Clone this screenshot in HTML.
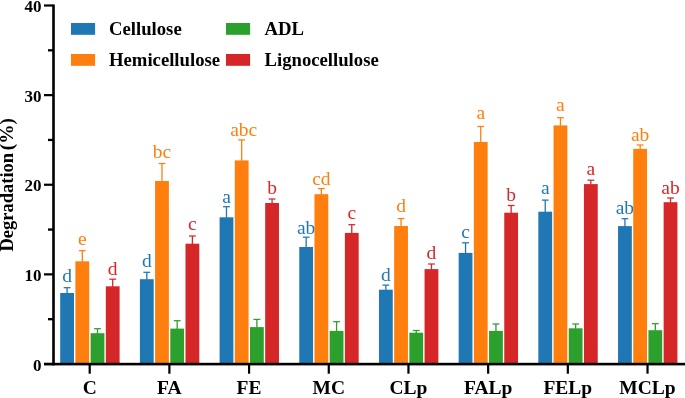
<!DOCTYPE html><html><head><meta charset="utf-8"><style>html,body{margin:0;padding:0;background:#fff;}svg{display:block;will-change:transform;}text{font-family:"Liberation Serif",serif;}</style></head><body>
<svg width="685" height="398" viewBox="0 0 685 398">
<rect width="685" height="398" fill="#fff"/>
<rect x="60.20" y="293.00" width="13.8" height="70.80" fill="#1f77b4"/>
<rect x="66.45" y="287.70" width="1.3" height="5.80" fill="#1f77b4"/>
<rect x="63.70" y="287.07" width="6.8" height="1.25" fill="#1f77b4"/>
<text x="67.10" y="281.90" font-size="19.5" fill="#1f77b4" text-anchor="middle">d</text>
<rect x="75.40" y="261.30" width="13.8" height="102.50" fill="#ff7f0e"/>
<rect x="81.65" y="250.70" width="1.3" height="11.10" fill="#ff7f0e"/>
<rect x="78.90" y="250.07" width="6.8" height="1.25" fill="#ff7f0e"/>
<text x="82.30" y="245.00" font-size="19.5" fill="#ff7f0e" text-anchor="middle">e</text>
<rect x="90.60" y="333.20" width="13.8" height="30.60" fill="#2ca02c"/>
<rect x="96.85" y="328.70" width="1.3" height="5.00" fill="#2ca02c"/>
<rect x="94.10" y="328.07" width="6.8" height="1.25" fill="#2ca02c"/>
<rect x="105.80" y="286.30" width="13.8" height="77.50" fill="#d62728"/>
<rect x="112.05" y="279.20" width="1.3" height="7.60" fill="#d62728"/>
<rect x="109.30" y="278.57" width="6.8" height="1.25" fill="#d62728"/>
<text x="112.70" y="274.80" font-size="19.5" fill="#d62728" text-anchor="middle">d</text>
<rect x="139.89" y="279.20" width="13.8" height="84.60" fill="#1f77b4"/>
<rect x="146.14" y="272.30" width="1.3" height="7.40" fill="#1f77b4"/>
<rect x="143.39" y="271.68" width="6.8" height="1.25" fill="#1f77b4"/>
<text x="146.79" y="266.60" font-size="19.5" fill="#1f77b4" text-anchor="middle">d</text>
<rect x="155.09" y="181.00" width="13.8" height="182.80" fill="#ff7f0e"/>
<rect x="161.34" y="163.50" width="1.3" height="18.00" fill="#ff7f0e"/>
<rect x="158.59" y="162.88" width="6.8" height="1.25" fill="#ff7f0e"/>
<text x="161.99" y="158.30" font-size="19.5" fill="#ff7f0e" text-anchor="middle">bc</text>
<rect x="170.29" y="328.60" width="13.8" height="35.20" fill="#2ca02c"/>
<rect x="176.54" y="320.70" width="1.3" height="8.40" fill="#2ca02c"/>
<rect x="173.79" y="320.07" width="6.8" height="1.25" fill="#2ca02c"/>
<rect x="185.49" y="243.70" width="13.8" height="120.10" fill="#d62728"/>
<rect x="191.74" y="236.00" width="1.3" height="8.20" fill="#d62728"/>
<rect x="188.99" y="235.38" width="6.8" height="1.25" fill="#d62728"/>
<text x="192.39" y="229.90" font-size="19.5" fill="#d62728" text-anchor="middle">c</text>
<rect x="219.58" y="217.30" width="13.8" height="146.50" fill="#1f77b4"/>
<rect x="225.83" y="206.70" width="1.3" height="11.10" fill="#1f77b4"/>
<rect x="223.08" y="206.07" width="6.8" height="1.25" fill="#1f77b4"/>
<text x="226.48" y="202.50" font-size="19.5" fill="#1f77b4" text-anchor="middle">a</text>
<rect x="234.78" y="160.40" width="13.8" height="203.40" fill="#ff7f0e"/>
<rect x="241.03" y="139.90" width="1.3" height="21.00" fill="#ff7f0e"/>
<rect x="238.28" y="139.27" width="6.8" height="1.25" fill="#ff7f0e"/>
<text x="243.68" y="136.30" font-size="19.5" fill="#ff7f0e" text-anchor="middle">abc</text>
<rect x="249.98" y="327.10" width="13.8" height="36.70" fill="#2ca02c"/>
<rect x="256.23" y="319.40" width="1.3" height="8.20" fill="#2ca02c"/>
<rect x="253.48" y="318.77" width="6.8" height="1.25" fill="#2ca02c"/>
<rect x="265.18" y="203.00" width="13.8" height="160.80" fill="#d62728"/>
<rect x="271.43" y="199.00" width="1.3" height="4.50" fill="#d62728"/>
<rect x="268.68" y="198.38" width="6.8" height="1.25" fill="#d62728"/>
<text x="272.08" y="194.00" font-size="19.5" fill="#d62728" text-anchor="middle">b</text>
<rect x="299.27" y="247.00" width="13.8" height="116.80" fill="#1f77b4"/>
<rect x="305.52" y="237.20" width="1.3" height="10.30" fill="#1f77b4"/>
<rect x="302.77" y="236.57" width="6.8" height="1.25" fill="#1f77b4"/>
<text x="306.17" y="233.70" font-size="19.5" fill="#1f77b4" text-anchor="middle">ab</text>
<rect x="314.47" y="194.20" width="13.8" height="169.60" fill="#ff7f0e"/>
<rect x="320.72" y="188.60" width="1.3" height="6.10" fill="#ff7f0e"/>
<rect x="317.97" y="187.97" width="6.8" height="1.25" fill="#ff7f0e"/>
<text x="321.37" y="184.90" font-size="19.5" fill="#ff7f0e" text-anchor="middle">cd</text>
<rect x="329.67" y="330.90" width="13.8" height="32.90" fill="#2ca02c"/>
<rect x="335.92" y="321.70" width="1.3" height="9.70" fill="#2ca02c"/>
<rect x="333.17" y="321.07" width="6.8" height="1.25" fill="#2ca02c"/>
<rect x="344.87" y="232.90" width="13.8" height="130.90" fill="#d62728"/>
<rect x="351.12" y="224.70" width="1.3" height="8.70" fill="#d62728"/>
<rect x="348.37" y="224.07" width="6.8" height="1.25" fill="#d62728"/>
<text x="351.77" y="219.00" font-size="19.5" fill="#d62728" text-anchor="middle">c</text>
<rect x="378.96" y="289.70" width="13.8" height="74.10" fill="#1f77b4"/>
<rect x="385.21" y="285.10" width="1.3" height="5.10" fill="#1f77b4"/>
<rect x="382.46" y="284.47" width="6.8" height="1.25" fill="#1f77b4"/>
<text x="385.86" y="281.20" font-size="19.5" fill="#1f77b4" text-anchor="middle">d</text>
<rect x="394.16" y="226.00" width="13.8" height="137.80" fill="#ff7f0e"/>
<rect x="400.41" y="218.60" width="1.3" height="7.90" fill="#ff7f0e"/>
<rect x="397.66" y="217.97" width="6.8" height="1.25" fill="#ff7f0e"/>
<text x="401.06" y="212.40" font-size="19.5" fill="#ff7f0e" text-anchor="middle">d</text>
<rect x="409.36" y="332.70" width="13.8" height="31.10" fill="#2ca02c"/>
<rect x="415.61" y="330.50" width="1.3" height="2.70" fill="#2ca02c"/>
<rect x="412.86" y="329.88" width="6.8" height="1.25" fill="#2ca02c"/>
<rect x="424.56" y="269.10" width="13.8" height="94.70" fill="#d62728"/>
<rect x="430.81" y="264.00" width="1.3" height="5.60" fill="#d62728"/>
<rect x="428.06" y="263.38" width="6.8" height="1.25" fill="#d62728"/>
<text x="431.46" y="259.30" font-size="19.5" fill="#d62728" text-anchor="middle">d</text>
<rect x="458.65" y="252.90" width="13.8" height="110.90" fill="#1f77b4"/>
<rect x="464.90" y="242.80" width="1.3" height="10.60" fill="#1f77b4"/>
<rect x="462.15" y="242.17" width="6.8" height="1.25" fill="#1f77b4"/>
<text x="465.55" y="238.30" font-size="19.5" fill="#1f77b4" text-anchor="middle">c</text>
<rect x="473.85" y="142.00" width="13.8" height="221.80" fill="#ff7f0e"/>
<rect x="480.10" y="126.50" width="1.3" height="16.00" fill="#ff7f0e"/>
<rect x="477.35" y="125.88" width="6.8" height="1.25" fill="#ff7f0e"/>
<text x="480.75" y="118.50" font-size="19.5" fill="#ff7f0e" text-anchor="middle">a</text>
<rect x="489.05" y="330.90" width="13.8" height="32.90" fill="#2ca02c"/>
<rect x="495.30" y="324.00" width="1.3" height="7.40" fill="#2ca02c"/>
<rect x="492.55" y="323.38" width="6.8" height="1.25" fill="#2ca02c"/>
<rect x="504.25" y="212.70" width="13.8" height="151.10" fill="#d62728"/>
<rect x="510.50" y="205.50" width="1.3" height="7.70" fill="#d62728"/>
<rect x="507.75" y="204.88" width="6.8" height="1.25" fill="#d62728"/>
<text x="511.15" y="201.20" font-size="19.5" fill="#d62728" text-anchor="middle">b</text>
<rect x="538.34" y="211.70" width="13.8" height="152.10" fill="#1f77b4"/>
<rect x="544.59" y="200.10" width="1.3" height="12.10" fill="#1f77b4"/>
<rect x="541.84" y="199.47" width="6.8" height="1.25" fill="#1f77b4"/>
<text x="545.24" y="194.30" font-size="19.5" fill="#1f77b4" text-anchor="middle">a</text>
<rect x="553.54" y="125.40" width="13.8" height="238.40" fill="#ff7f0e"/>
<rect x="559.79" y="117.70" width="1.3" height="8.20" fill="#ff7f0e"/>
<rect x="557.04" y="117.08" width="6.8" height="1.25" fill="#ff7f0e"/>
<text x="560.44" y="111.40" font-size="19.5" fill="#ff7f0e" text-anchor="middle">a</text>
<rect x="568.74" y="328.30" width="13.8" height="35.50" fill="#2ca02c"/>
<rect x="574.99" y="324.00" width="1.3" height="4.80" fill="#2ca02c"/>
<rect x="572.24" y="323.38" width="6.8" height="1.25" fill="#2ca02c"/>
<rect x="583.94" y="184.10" width="13.8" height="179.70" fill="#d62728"/>
<rect x="590.19" y="180.20" width="1.3" height="4.40" fill="#d62728"/>
<rect x="587.44" y="179.57" width="6.8" height="1.25" fill="#d62728"/>
<text x="590.84" y="174.60" font-size="19.5" fill="#d62728" text-anchor="middle">a</text>
<rect x="618.03" y="226.10" width="13.8" height="137.70" fill="#1f77b4"/>
<rect x="624.28" y="218.70" width="1.3" height="7.90" fill="#1f77b4"/>
<rect x="621.53" y="218.07" width="6.8" height="1.25" fill="#1f77b4"/>
<text x="624.93" y="214.40" font-size="19.5" fill="#1f77b4" text-anchor="middle">ab</text>
<rect x="633.23" y="148.90" width="13.8" height="214.90" fill="#ff7f0e"/>
<rect x="639.48" y="145.00" width="1.3" height="4.40" fill="#ff7f0e"/>
<rect x="636.73" y="144.38" width="6.8" height="1.25" fill="#ff7f0e"/>
<text x="640.13" y="141.40" font-size="19.5" fill="#ff7f0e" text-anchor="middle">ab</text>
<rect x="648.43" y="330.20" width="13.8" height="33.60" fill="#2ca02c"/>
<rect x="654.68" y="323.70" width="1.3" height="7.00" fill="#2ca02c"/>
<rect x="651.93" y="323.07" width="6.8" height="1.25" fill="#2ca02c"/>
<rect x="663.63" y="202.20" width="13.8" height="161.60" fill="#d62728"/>
<rect x="669.88" y="198.00" width="1.3" height="4.70" fill="#d62728"/>
<rect x="667.13" y="197.38" width="6.8" height="1.25" fill="#d62728"/>
<text x="670.53" y="194.00" font-size="19.5" fill="#d62728" text-anchor="middle">ab</text>
<rect x="52.2" y="4.4" width="2.6" height="361" fill="#000"/>
<rect x="44" y="362.8" width="641" height="2.6" fill="#000"/>
<rect x="44" y="362.90" width="9" height="2.2" fill="#000"/>
<text transform="translate(41.6,370.60) scale(1,1.0)" font-size="17" font-weight="bold" text-anchor="end">0</text>
<rect x="48" y="318.04" width="5" height="2.3" fill="#000"/>
<rect x="44" y="273.27" width="9" height="2.2" fill="#000"/>
<text transform="translate(41.6,280.98) scale(1,1.0)" font-size="17" font-weight="bold" text-anchor="end">10</text>
<rect x="48" y="228.41" width="5" height="2.3" fill="#000"/>
<rect x="44" y="183.65" width="9" height="2.2" fill="#000"/>
<text transform="translate(41.6,191.35) scale(1,1.0)" font-size="17" font-weight="bold" text-anchor="end">20</text>
<rect x="48" y="138.79" width="5" height="2.3" fill="#000"/>
<rect x="44" y="94.03" width="9" height="2.2" fill="#000"/>
<text transform="translate(41.6,101.72) scale(1,1.0)" font-size="17" font-weight="bold" text-anchor="end">30</text>
<rect x="48" y="49.16" width="5" height="2.3" fill="#000"/>
<rect x="44" y="4.40" width="9" height="2.2" fill="#000"/>
<text transform="translate(41.6,12.10) scale(1,1.0)" font-size="17" font-weight="bold" text-anchor="end">40</text>
<rect x="88.60" y="364" width="2.2" height="9.7" fill="#000"/>
<text x="89.70" y="393.9" font-size="19.5" font-weight="bold" text-anchor="middle">C</text>
<rect x="168.29" y="364" width="2.2" height="9.7" fill="#000"/>
<text x="169.39" y="393.9" font-size="19.5" font-weight="bold" text-anchor="middle">FA</text>
<rect x="247.98" y="364" width="2.2" height="9.7" fill="#000"/>
<text x="249.08" y="393.9" font-size="19.5" font-weight="bold" text-anchor="middle">FE</text>
<rect x="327.67" y="364" width="2.2" height="9.7" fill="#000"/>
<text x="328.77" y="393.9" font-size="19.5" font-weight="bold" text-anchor="middle">MC</text>
<rect x="407.36" y="364" width="2.2" height="9.7" fill="#000"/>
<text x="408.46" y="393.9" font-size="19.5" font-weight="bold" text-anchor="middle">CLp</text>
<rect x="487.05" y="364" width="2.2" height="9.7" fill="#000"/>
<text x="488.15" y="393.9" font-size="19.5" font-weight="bold" text-anchor="middle">FALp</text>
<rect x="566.74" y="364" width="2.2" height="9.7" fill="#000"/>
<text x="567.84" y="393.9" font-size="19.5" font-weight="bold" text-anchor="middle">FELp</text>
<rect x="646.43" y="364" width="2.2" height="9.7" fill="#000"/>
<text x="647.53" y="393.9" font-size="19.5" font-weight="bold" text-anchor="middle">MCLp</text>
<text transform="translate(12.7,251.6) rotate(-90)" font-size="18.5" font-weight="bold">Degradation</text>
<text transform="translate(12.9,118.1) rotate(-90)" font-size="19.3" font-weight="bold" text-anchor="end">(%)</text>
<rect x="71" y="23" width="24.1" height="11.8" fill="#1f77b4"/>
<text x="109" y="35.2" font-size="18.7" font-weight="bold">Cellulose</text>
<rect x="71" y="54" width="24.1" height="11.8" fill="#ff7f0e"/>
<text x="109" y="66.0" font-size="18.7" font-weight="bold">Hemicellulose</text>
<rect x="226" y="23" width="24.1" height="11.8" fill="#2ca02c"/>
<text x="264.5" y="35.2" font-size="18.7" font-weight="bold">ADL</text>
<rect x="226" y="54" width="24.1" height="11.8" fill="#d62728"/>
<text x="264.5" y="66.0" font-size="18.7" font-weight="bold">Lignocellulose</text>
</svg></body></html>
